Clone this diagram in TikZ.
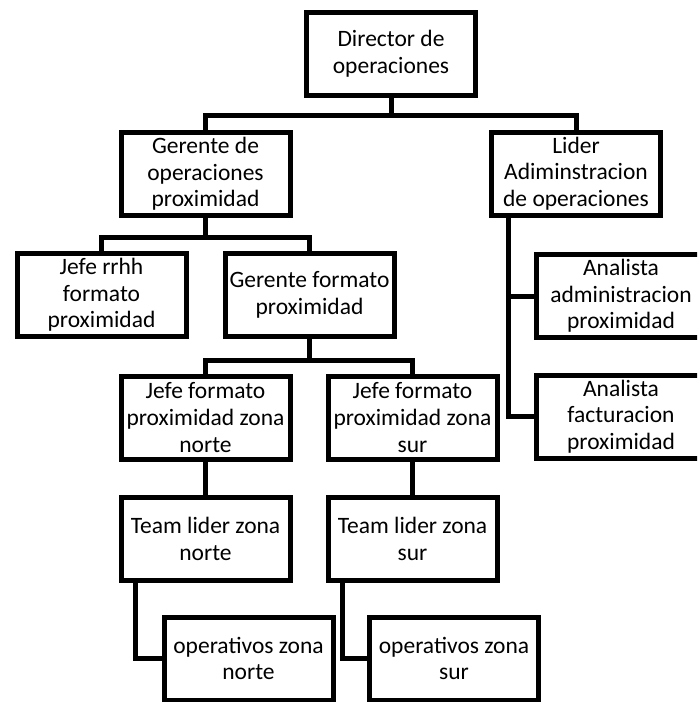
\documentclass[tikz,border=0pt]{standalone}
\usepackage{fontspec}
\setmainfont{Carlito}
\usepackage{tikz}

\begin{document}
\begin{tikzpicture}[x=1pt, y=-1pt, every node/.style={font=\fontsize{23.5}{26.7}\selectfont},
    box/.style={draw, line width=5pt, minimum width=169pt, minimum height=83pt, inner sep=0pt, align=center},
    link/.style={line width=5pt}]
    \useasboundingbox (0,0) rectangle (697,702);
    \clip (0,0) rectangle (697,702);

    % boxes
    \node[box] (dir) at (391,53.5) {Director de\\operaciones};
    \node[box] (gop) at (205.5,174) {Gerente de\\operaciones\\proximidad};
    \node[box] (lid) at (576,173.5) {Lider\\Adiminstracion\\de operaciones};
    \node[box] (jrr) at (101.5,295) {Jefe rrhh\\formato\\proximidad};
    \node[box] (gfo) at (309.5,295) {Gerente formato\\proximidad};
    \node[box] (aad) at (621,296) {Analista\\administracion\\proximidad};
    \node[box] (afa) at (621,416.5) {Analista\\facturacion\\proximidad};
    \node[box] (jfn) at (205.5,417.5) {Jefe formato\\proximidad zona\\norte};
    \node[box] (jfs) at (412.5,417.5) {Jefe formato\\proximidad zona\\sur};
    \node[box] (tln) at (205.5,539) {Team lider zona\\norte};
    \node[box] (tls) at (412.5,539) {Team lider zona\\sur};
    \node[box] (opn) at (248.5,658.5) {operativos zona\\norte};
    \node[box] (ops) at (454,658.5) {operativos zona\\sur};

    % links
    \draw[link] (dir.south) -- ++(0,18) -| (gop.north);
    \draw[link] (dir.south) -- ++(0,18) -| (lid.north);
    \draw[link] (gop.south) -- ++(0,19.5) -| (jrr.north);
    \draw[link] (gop.south) -- ++(0,19.5) -| (gfo.north);
    \draw[link] (gfo.south) -- ++(0,21.5) -| (jfn.north);
    \draw[link] (gfo.south) -- ++(0,21.5) -| (jfs.north);
    \draw[link] (jfn.south) -- (tln.north);
    \draw[link] (jfs.south) -- (tls.north);
    \draw[link] ([xshift=17pt]tln.south west) |- (opn.west);
    \draw[link] ([xshift=17pt]tls.south west) |- (ops.west);
    \draw[link] ([xshift=19pt]lid.south west) |- (aad.west);
    \draw[link] ([xshift=19pt]lid.south west) |- (afa.west);
\end{tikzpicture}
\end{document}
